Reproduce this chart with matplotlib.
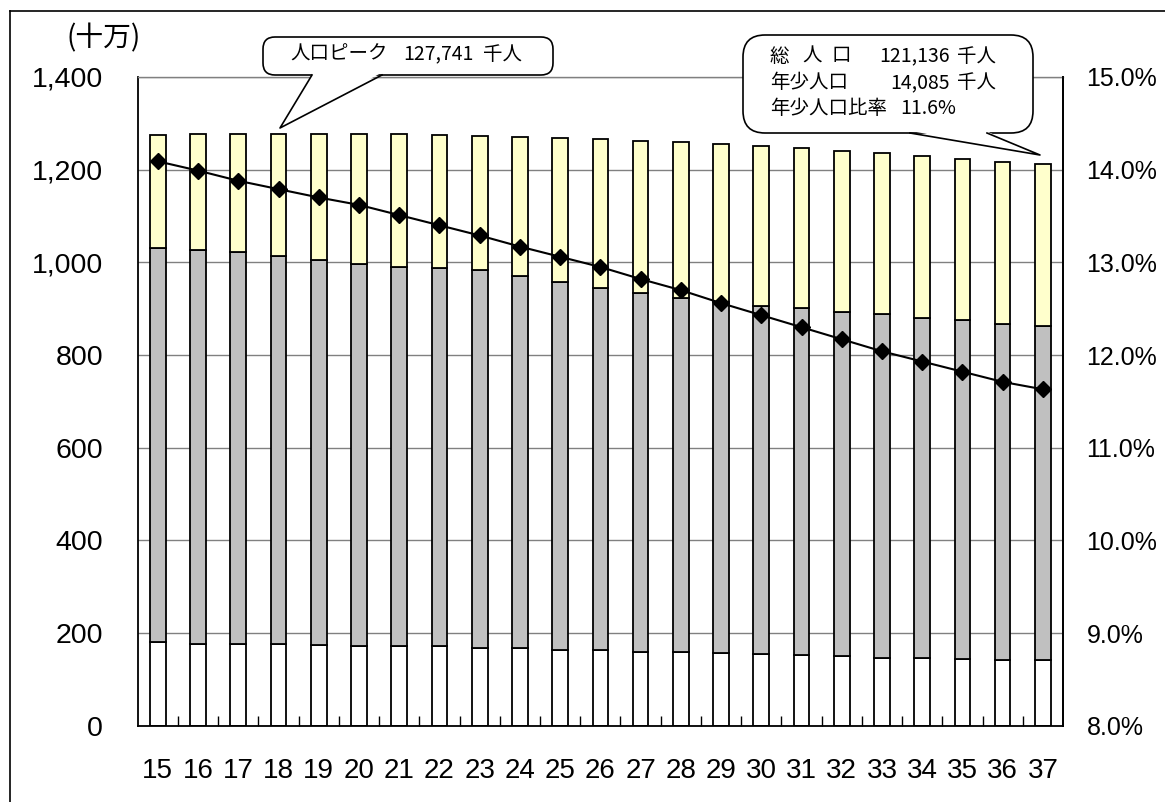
import numpy as np
import matplotlib
matplotlib.use("Agg")
import matplotlib.pyplot as plt
from matplotlib.patches import FancyBboxPatch, Polygon
from matplotlib.lines import Line2D
from matplotlib.transforms import IdentityTransform
from matplotlib.ticker import FuncFormatter

# ---- data (units: 十万人, ratio in %) ----
years = ['15', '16', '17', '18', '19', '20', '21', '22', '23', '24', '25', '26',
         '27', '28', '29', '30', '31', '32', '33', '34', '35', '36', '37']
young = [180, 177, 176, 176, 175, 172, 171, 171, 168, 167, 164, 163,
         160, 159, 156, 155, 152, 151, 147, 146, 143, 142, 140.9]
working = [851, 850, 846, 838, 830, 824, 820, 817, 815, 804, 794, 782,
           773, 764, 758, 751, 749, 741, 741, 734, 732, 725, 721.1]
elderly = [244, 249.5, 255.1, 263.4, 272.3, 280.9, 285, 286.7, 290.1, 300.1, 310.7, 320.9,
           329.7, 336.1, 341, 344.6, 344.8, 349.1, 347.4, 349.4, 348, 350, 349.4]
young_ratio = [14.09, 13.99, 13.88, 13.79, 13.70, 13.62, 13.51, 13.40, 13.29, 13.17, 13.06, 12.95,
               12.82, 12.70, 12.56, 12.43, 12.30, 12.17, 12.04, 11.93, 11.82, 11.71, 11.63]
left_ticks = [0, 200, 400, 600, 800, 1000, 1200, 1400]
right_ticks = [8, 9, 10, 11, 12, 13, 14, 15]

W, H = 1165, 802
NUMFONT = ['Liberation Sans', 'DejaVu Sans']
JPFONT = ['Noto Sans CJK JP', 'DejaVu Sans']

fig = plt.figure(figsize=(W / 100, H / 100), dpi=100)
L, R, T, B = 137.7, 1063, 77, 725.7
ax = fig.add_axes([L / W, 1 - B / H, (R - L) / W, (B - T) / H])

x = np.arange(len(years))
bw = 0.39
ew = 1.3
ax.bar(x, young, width=bw, color='white', edgecolor='black', linewidth=ew, zorder=2)
ax.bar(x, working, width=bw, bottom=young, color='#C0C0C0', edgecolor='black', linewidth=ew, zorder=2)
bottom2 = np.array(young) + np.array(working)
ax.bar(x, elderly, width=bw, bottom=bottom2, color='#FFFFCC', edgecolor='black', linewidth=ew, zorder=2)

ax.set_xlim(-0.5, len(years) - 0.5)
ax.set_ylim(0, 1400)
ax.set_yticks(left_ticks)
ax.yaxis.set_major_formatter(FuncFormatter(lambda v, p: f"{int(v):,}"))
ax.set_xticks(x)
ax.set_xticklabels(years)
ax.set_xticks(np.arange(0.5, len(years) - 1, 1), minor=True)
ax.tick_params(axis='x', which='major', length=0, pad=23)
ax.tick_params(axis='x', which='minor', direction='in', length=7, width=1, color='black')
ax.tick_params(axis='y', length=0, pad=25)
for lab in ax.get_xticklabels():
    lab.set_fontfamily(NUMFONT)
    lab.set_fontsize(20)
for lab in ax.get_yticklabels():
    lab.set_fontfamily(NUMFONT)
    lab.set_fontsize(20.5)
ax.yaxis.grid(True, color='#808080', linewidth=1.0)
ax.set_axisbelow(True)
for s in ['left', 'bottom', 'right']:
    ax.spines[s].set_color('black')
    ax.spines[s].set_linewidth(1.3)
ax.spines['top'].set_color('#808080')
ax.spines['top'].set_linewidth(1.0)

ax2 = ax.twinx()
ax2.plot(x, young_ratio, color='black', linewidth=1.5, marker='D', markersize=8, zorder=5)
ax2.set_ylim(8, 15)
ax2.set_yticks(right_ticks)
ax2.yaxis.set_major_formatter(FuncFormatter(lambda v, p: f"{v:.1f}%"))
ax2.tick_params(axis='y', length=0, pad=17)
for lab in ax2.get_yticklabels():
    lab.set_fontfamily(NUMFONT)
    lab.set_fontsize(18)
for s in ['left', 'bottom', 'top']:
    ax2.spines[s].set_visible(False)
ax2.spines['right'].set_color('black')
ax2.spines['right'].set_linewidth(1.3)

# unit label
fig.text(104 / W, 1 - 38 / H, '(十万)', fontsize=20, family=JPFONT, ha='center', va='center')

# figure border (left and top edges)
fig.add_artist(Line2D([10 / W, 10 / W], [0, 1 - 11 / H], color='black', linewidth=1.2))
fig.add_artist(Line2D([10 / W, 1], [1 - 11 / H, 1 - 11 / H], color='black', linewidth=1.2))


def callout(x0, y0, x1, y1, b1, b2, tip, rad):
    # pixel coords, y measured from top
    box = FancyBboxPatch((x0, H - y1), x1 - x0, y1 - y0,
                         boxstyle=f"round,pad=0,rounding_size={rad}",
                         facecolor='white', edgecolor='black', linewidth=1.2,
                         transform=IdentityTransform(), zorder=10)
    fig.add_artist(box)
    cover = Polygon([(b1 + 1, H - y1 + 2), (tip[0], H - tip[1]), (b2 - 1, H - y1 + 2)],
                    closed=True, facecolor='white', edgecolor='none',
                    transform=IdentityTransform(), zorder=11)
    fig.add_artist(cover)
    fig.add_artist(Line2D([b1, tip[0], b2], [H - y1, H - tip[1], H - y1], color='black',
                          linewidth=1.2, transform=IdentityTransform(), zorder=12))


def t(xp, yp, s, ha='left'):
    fig.text(xp / W, 1 - yp / H, s, fontsize=14, family=JPFONT, ha=ha, va='center', zorder=13)


callout(263, 37, 553, 75, 312, 382, (280, 128), 12)
t(290, 54, '人口ピーク')
t(403, 54, '127,741')
t(483, 54, '千人')

callout(743, 35, 1033, 133, 910, 987, (1040, 155), 22)
t(770, 56, '総')
t(802, 56, '人')
t(832, 56, '口')
t(950, 56, '121,136', ha='right')
t(957, 56, '千人')
t(770, 83, '年少人口')
t(950, 83, '14,085', ha='right')
t(957, 83, '千人')
t(770, 109, '年少人口比率')
t(900, 109, '11.6%')

fig.savefig('out.png', dpi=100)
